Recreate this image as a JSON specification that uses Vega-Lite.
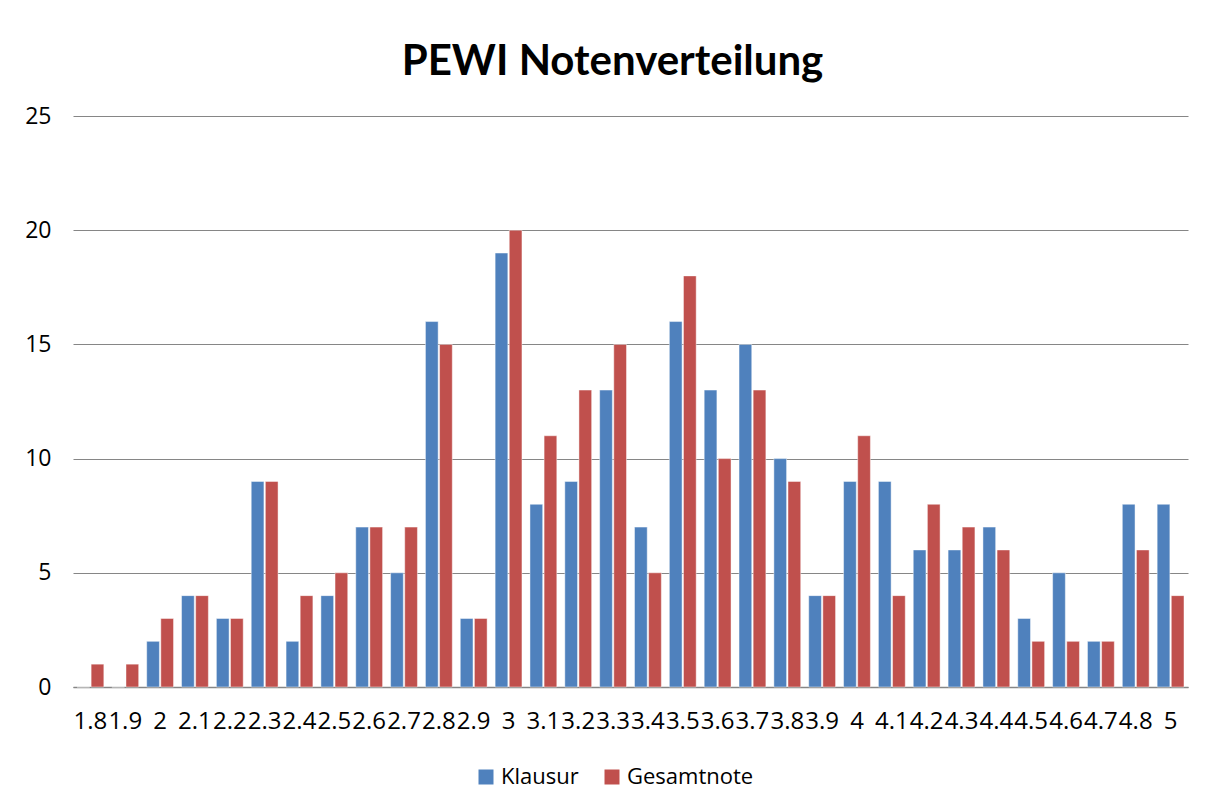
{
  "$schema": "https://vega.github.io/schema/vega-lite/v6.json",
  "width": 1115,
  "height": 571,
  "autosize": "none",
  "padding": {"left": 73, "top": 116, "right": 24, "bottom": 125},
  "background": "white",
  "config": {"view": {"stroke": null}},
  "title": {
    "text": "PEWI Notenverteilung",
    "font": "Lato",
    "fontWeight": "bold",
    "fontSize": 42,
    "color": "black",
    "anchor": "middle",
    "baseline": "alphabetic",
    "dx": -18,
    "offset": -12
  },
  "data": {
    "values": [
      {"note": "1.8", "serie": "Klausur", "anzahl": 0},
      {"note": "1.8", "serie": "Gesamtnote", "anzahl": 1},
      {"note": "1.9", "serie": "Klausur", "anzahl": 0},
      {"note": "1.9", "serie": "Gesamtnote", "anzahl": 1},
      {"note": "2", "serie": "Klausur", "anzahl": 2},
      {"note": "2", "serie": "Gesamtnote", "anzahl": 3},
      {"note": "2.1", "serie": "Klausur", "anzahl": 4},
      {"note": "2.1", "serie": "Gesamtnote", "anzahl": 4},
      {"note": "2.2", "serie": "Klausur", "anzahl": 3},
      {"note": "2.2", "serie": "Gesamtnote", "anzahl": 3},
      {"note": "2.3", "serie": "Klausur", "anzahl": 9},
      {"note": "2.3", "serie": "Gesamtnote", "anzahl": 9},
      {"note": "2.4", "serie": "Klausur", "anzahl": 2},
      {"note": "2.4", "serie": "Gesamtnote", "anzahl": 4},
      {"note": "2.5", "serie": "Klausur", "anzahl": 4},
      {"note": "2.5", "serie": "Gesamtnote", "anzahl": 5},
      {"note": "2.6", "serie": "Klausur", "anzahl": 7},
      {"note": "2.6", "serie": "Gesamtnote", "anzahl": 7},
      {"note": "2.7", "serie": "Klausur", "anzahl": 5},
      {"note": "2.7", "serie": "Gesamtnote", "anzahl": 7},
      {"note": "2.8", "serie": "Klausur", "anzahl": 16},
      {"note": "2.8", "serie": "Gesamtnote", "anzahl": 15},
      {"note": "2.9", "serie": "Klausur", "anzahl": 3},
      {"note": "2.9", "serie": "Gesamtnote", "anzahl": 3},
      {"note": "3", "serie": "Klausur", "anzahl": 19},
      {"note": "3", "serie": "Gesamtnote", "anzahl": 20},
      {"note": "3.1", "serie": "Klausur", "anzahl": 8},
      {"note": "3.1", "serie": "Gesamtnote", "anzahl": 11},
      {"note": "3.2", "serie": "Klausur", "anzahl": 9},
      {"note": "3.2", "serie": "Gesamtnote", "anzahl": 13},
      {"note": "3.3", "serie": "Klausur", "anzahl": 13},
      {"note": "3.3", "serie": "Gesamtnote", "anzahl": 15},
      {"note": "3.4", "serie": "Klausur", "anzahl": 7},
      {"note": "3.4", "serie": "Gesamtnote", "anzahl": 5},
      {"note": "3.5", "serie": "Klausur", "anzahl": 16},
      {"note": "3.5", "serie": "Gesamtnote", "anzahl": 18},
      {"note": "3.6", "serie": "Klausur", "anzahl": 13},
      {"note": "3.6", "serie": "Gesamtnote", "anzahl": 10},
      {"note": "3.7", "serie": "Klausur", "anzahl": 15},
      {"note": "3.7", "serie": "Gesamtnote", "anzahl": 13},
      {"note": "3.8", "serie": "Klausur", "anzahl": 10},
      {"note": "3.8", "serie": "Gesamtnote", "anzahl": 9},
      {"note": "3.9", "serie": "Klausur", "anzahl": 4},
      {"note": "3.9", "serie": "Gesamtnote", "anzahl": 4},
      {"note": "4", "serie": "Klausur", "anzahl": 9},
      {"note": "4", "serie": "Gesamtnote", "anzahl": 11},
      {"note": "4.1", "serie": "Klausur", "anzahl": 9},
      {"note": "4.1", "serie": "Gesamtnote", "anzahl": 4},
      {"note": "4.2", "serie": "Klausur", "anzahl": 6},
      {"note": "4.2", "serie": "Gesamtnote", "anzahl": 8},
      {"note": "4.3", "serie": "Klausur", "anzahl": 6},
      {"note": "4.3", "serie": "Gesamtnote", "anzahl": 7},
      {"note": "4.4", "serie": "Klausur", "anzahl": 7},
      {"note": "4.4", "serie": "Gesamtnote", "anzahl": 6},
      {"note": "4.5", "serie": "Klausur", "anzahl": 3},
      {"note": "4.5", "serie": "Gesamtnote", "anzahl": 2},
      {"note": "4.6", "serie": "Klausur", "anzahl": 5},
      {"note": "4.6", "serie": "Gesamtnote", "anzahl": 2},
      {"note": "4.7", "serie": "Klausur", "anzahl": 2},
      {"note": "4.7", "serie": "Gesamtnote", "anzahl": 2},
      {"note": "4.8", "serie": "Klausur", "anzahl": 8},
      {"note": "4.8", "serie": "Gesamtnote", "anzahl": 6},
      {"note": "5", "serie": "Klausur", "anzahl": 8},
      {"note": "5", "serie": "Gesamtnote", "anzahl": 4}
    ]
  },
  "mark": {"type": "bar", "stroke": "white", "strokeOpacity": 0.45, "strokeWidth": 1},
  "encoding": {
    "x": {
      "field": "note",
      "type": "nominal",
      "sort": null,
      "scale": {"paddingInner": 0.23, "paddingOuter": 0.115},
      "axis": {
        "title": null,
        "labelAngle": 0,
        "labelOverlap": false,
        "labelFont": "Open Sans",
        "labelFontSize": 24,
        "labelColor": "black",
        "labelPadding": 22,
        "ticks": false,
        "domainColor": "#868686",
        "domainWidth": 1.5
      }
    },
    "xOffset": {
      "field": "serie",
      "type": "nominal",
      "sort": ["Klausur", "Gesamtnote"],
      "scale": {"paddingInner": 0.1}
    },
    "y": {
      "field": "anzahl",
      "type": "quantitative",
      "scale": {"domain": [0, 25], "nice": false},
      "axis": {
        "title": null,
        "values": [0, 5, 10, 15, 20, 25],
        "grid": true,
        "gridColor": "#868686",
        "gridWidth": 1.2,
        "domain": false,
        "ticks": false,
        "labelFont": "Open Sans",
        "labelFontSize": 23,
        "labelColor": "black",
        "labelPadding": 22
      }
    },
    "color": {
      "field": "serie",
      "type": "nominal",
      "scale": {"domain": ["Klausur", "Gesamtnote"], "range": ["#4F81BD", "#C0504D"]},
      "legend": {
        "title": null,
        "orient": "none",
        "direction": "horizontal",
        "legendX": 402,
        "legendY": 650,
        "symbolType": "square",
        "symbolSize": 225,
        "symbolStrokeWidth": 0,
        "labelFont": "Open Sans",
        "labelFontSize": 22,
        "labelColor": "black",
        "labelOffset": 4,
        "columnPadding": 22
      }
    }
  }
}
